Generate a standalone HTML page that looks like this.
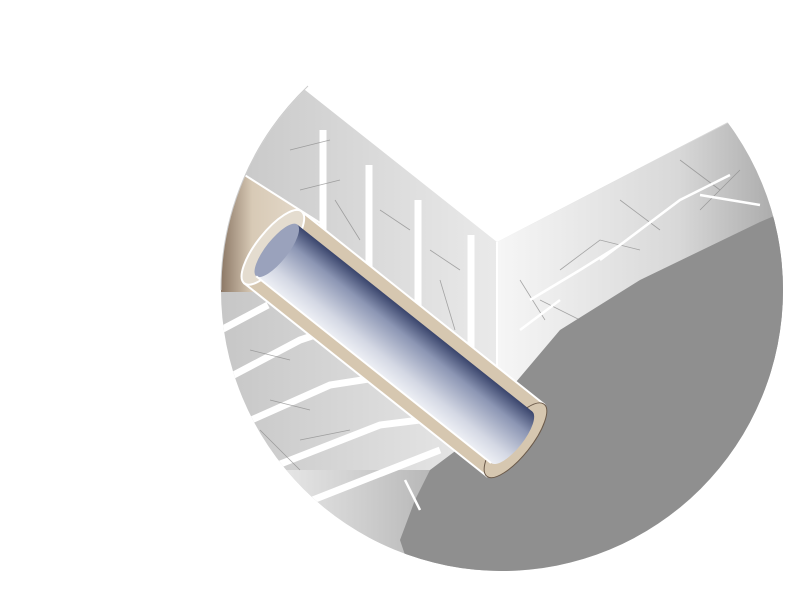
<!DOCTYPE html>
<html><head><meta charset="utf-8"><style>html,body{margin:0;padding:0;background:#fff;width:800px;height:600px;overflow:hidden}</style></head>
<body>
<svg width="800" height="600" viewBox="0 0 800 600" xmlns="http://www.w3.org/2000/svg">
<defs>
<clipPath id="c">
<path d="M502,290 m-281,0 a281,281 0 1,0 562,0 a281,281 0 1,0 -562,0 Z"/>
</clipPath>
<clipPath id="v"><polygon points="200,40 300,86 497,242 728,122 800,40 800,600 200,600"/></clipPath>
<linearGradient id="wall" x1="0" y1="0" x2="1" y2="0"><stop offset="0" stop-color="#c4c4c4"/><stop offset="0.5" stop-color="#eaeaea"/><stop offset="1" stop-color="#d0d0d0"/></linearGradient>
<linearGradient id="rw" x1="0" y1="0" x2="1" y2="0"><stop offset="0" stop-color="#f6f6f6"/><stop offset="0.6" stop-color="#d8d8d8"/><stop offset="1" stop-color="#a0a0a0"/></linearGradient>
<linearGradient id="pipe" x1="0" y1="0" x2="0" y2="1"><stop offset="0" stop-color="#3a456c"/><stop offset="0.3" stop-color="#8c96b4"/><stop offset="0.75" stop-color="#d4d8e4"/><stop offset="1" stop-color="#eef0f5"/></linearGradient>
<linearGradient id="beige" x1="0" y1="0" x2="1" y2="0"><stop offset="0" stop-color="#8c7866"/><stop offset="0.3" stop-color="#d8cab6"/><stop offset="1" stop-color="#e8dfd2"/></linearGradient>
<linearGradient id="bot" x1="0" y1="0" x2="1" y2="0"><stop offset="0" stop-color="#ffffff"/><stop offset="0.5" stop-color="#cfcfcf"/><stop offset="1" stop-color="#9a9a9a"/></linearGradient>
</defs>
<g clip-path="url(#v)">
<g clip-path="url(#c)">
<rect x="200" y="0" width="600" height="600" fill="url(#wall)"/>
<polygon points="497,242 800,86 800,600 497,600" fill="url(#rw)"/>
<rect x="200" y="470" width="320" height="130" fill="url(#bot)"/>
<path d="M430,470 L470,440 L505,395 L560,330 L640,280 L760,222 L800,205 L800,600 L420,600 L400,540 L415,500 Z" fill="#8f8f8f"/>
<polygon points="221,160 325,226 262,292 221,292" fill="url(#beige)"/>
<line x1="221" y1="160" x2="325" y2="226" stroke="#fff" stroke-width="2"/>
<g stroke="#fff" stroke-width="7">
<line x1="323" y1="130" x2="323" y2="230"/>
<line x1="369" y1="165" x2="369" y2="275"/>
<line x1="418" y1="200" x2="418" y2="320"/>
<line x1="471" y1="235" x2="471" y2="370"/>
</g>
<line x1="497" y1="242" x2="497" y2="370" stroke="#fff" stroke-width="2"/>
<g stroke="#fff" stroke-width="7" fill="none">
<path d="M221,330 L268,305"/>
<path d="M228,378 L300,340 L330,330"/>
<path d="M240,425 L330,385 L375,378"/>
<path d="M265,470 L380,425 L420,420"/>
<path d="M300,505 L440,450"/>
</g>
<g stroke="#888" stroke-width="0.8" fill="none" opacity="0.7">
<path d="M290,150 L330,140 M300,190 L340,180 M335,200 L360,240 M380,210 L410,230 M430,250 L460,270 M250,350 L290,360 M270,400 L310,410 M300,440 L350,430 M560,270 L600,240 L640,250 M620,200 L660,230 M680,160 L720,190 M540,300 L580,320 M700,210 L740,170 M345,250 L360,300 M440,280 L455,330 M260,430 L300,470 M520,280 L545,320"/>
</g>
<g stroke="#fff" stroke-width="2.5" fill="none">
<path d="M530,300 L580,270 L620,245 L680,200 L730,175 M600,260 L640,230 M520,330 L560,300 M700,195 L760,205 M405,480 L420,510"/>
</g>
<g transform="translate(402,350) rotate(38.5)">
<rect x="-165" y="-46" width="310" height="92" fill="#d6c7b0" stroke="#fff" stroke-width="2"/>
<ellipse cx="145" cy="0" rx="16" ry="46" fill="#d6c7b0" stroke="#6b5a4a" stroke-width="1"/>
<ellipse cx="-165" cy="0" rx="16" ry="46" fill="#e4dccf" stroke="#fff" stroke-width="2"/>
<rect x="-160" y="-33" width="300" height="66" fill="url(#pipe)"/>
<ellipse cx="140" cy="0" rx="12" ry="33" fill="url(#pipe)"/>
<ellipse cx="-160" cy="0" rx="11" ry="33" fill="#9aa2bc"/>
<line x1="-160" y1="33" x2="140" y2="33" stroke="#fff" stroke-width="2"/>
</g>
</g>
</g>
<path d="M308,86 A281,281 0 0,0 221,290" fill="none" stroke="#ccc" stroke-width="1"/>
</svg>
</body></html>
